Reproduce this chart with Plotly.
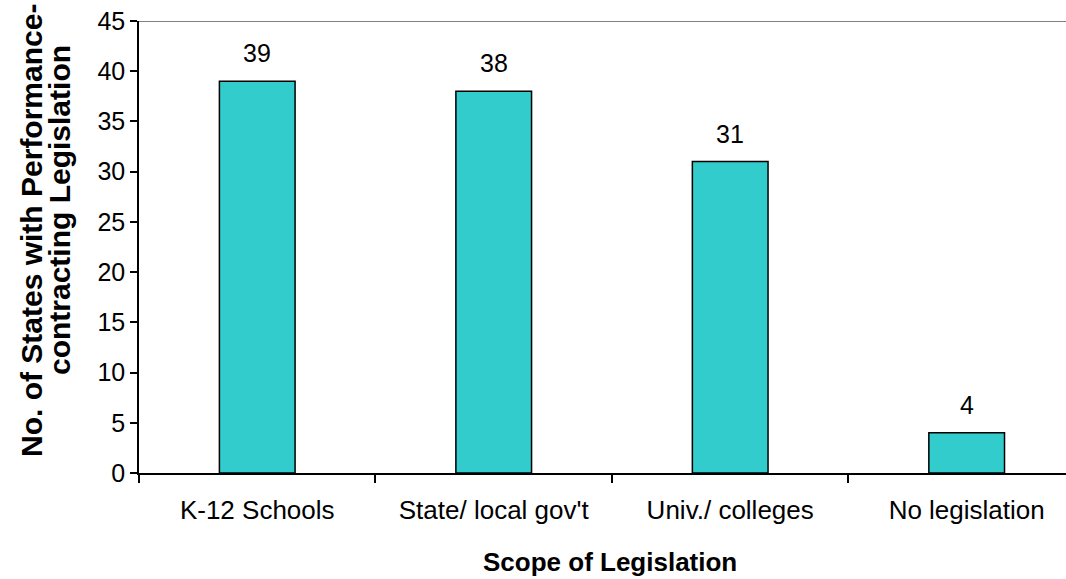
import plotly.graph_objects as go

categories = ["K-12 Schools", "State/ local gov't", "Univ./ colleges", "No legislation"]
values = [39, 38, 31, 4]
y_ticks = [0, 5, 10, 15, 20, 25, 30, 35, 40, 45]
y_title_lines = ["No. of States with Performance-", "contracting Legislation"]
x_title = "Scope of Legislation"

FONT = "Arial, Liberation Sans, sans-serif"

fig = go.Figure()
fig.add_trace(go.Bar(
    x=categories, y=values, width=0.32,
    marker=dict(color="#33CCCC", line=dict(color="black", width=1.5)),
    hoverinfo="x+y",
))

# value labels above bars
for c, v in zip(categories, values):
    fig.add_annotation(x=c, y=v, xref="x", yref="y", text=str(v), showarrow=False,
                       yanchor="middle", yshift=28,
                       font=dict(family=FONT, size=25, color="black"))

# top border
fig.add_shape(type="line", xref="paper", yref="y", x0=0, x1=1, y0=45, y1=45,
              line=dict(color="#808080", width=2))

# axis titles
fig.add_annotation(xref="paper", yref="paper", x=0, y=0.5, xshift=-108, yshift=16,
                   text="<b>%s</b>" % y_title_lines[0], textangle=-90, showarrow=False,
                   xanchor="center", yanchor="middle",
                   font=dict(family=FONT, size=30, color="black"))
fig.add_annotation(xref="paper", yref="paper", x=0, y=0.5, xshift=-80, yshift=37,
                   text="<b>%s</b>" % y_title_lines[1], textangle=-90, showarrow=False,
                   xanchor="center", yanchor="middle",
                   font=dict(family=FONT, size=30, color="black"))
fig.add_annotation(xref="paper", yref="paper", x=0.5, y=0, xshift=7, yshift=-89,
                   text="<b>%s</b>" % x_title, showarrow=False,
                   xanchor="center", yanchor="middle",
                   font=dict(family=FONT, size=26, color="black"))

fig.update_layout(
    width=1066, height=579,
    margin=dict(l=139, r=0, t=21, b=106),
    paper_bgcolor="white", plot_bgcolor="white",
    font=dict(family=FONT, size=25, color="black"),
    showlegend=False,
    xaxis=dict(
        range=[-0.5, 3.42], showline=True, linecolor="black", linewidth=1.5,
        ticks="outside", ticklen=8, tickcolor="black", tickwidth=1.5, tickson="boundaries",
        tickfont=dict(family=FONT, size=26, color="black"), ticklabelstandoff=13,
        showgrid=False, zeroline=False,
    ),
    yaxis=dict(
        range=[0, 45], tickvals=y_ticks, showline=True, linecolor="black", linewidth=1.5,
        ticks="outside", ticklen=7, tickcolor="black", tickwidth=1.5,
        showgrid=False, zeroline=False,
        tickfont=dict(family=FONT, size=25, color="black"),
    ),
)

fig.write_html("out.html", config={"displayModeBar": False},
               post_script="document.body.style.margin='0';document.body.style.overflow='hidden';")
